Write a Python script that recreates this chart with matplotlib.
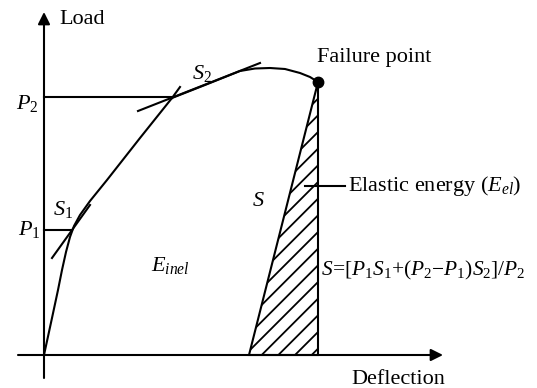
import matplotlib
matplotlib.use("Agg")
import matplotlib.pyplot as plt

plt.rcParams['font.family'] = ['Liberation Serif', 'DejaVu Serif']
plt.rcParams['mathtext.fontset'] = 'custom'
plt.rcParams['mathtext.rm'] = 'Liberation Serif'
plt.rcParams['mathtext.it'] = 'Liberation Serif:italic'
plt.rcParams['mathtext.bf'] = 'Liberation Serif:bold'
plt.rcParams['hatch.linewidth'] = 1.3

# Load-deflection curve (arbitrary units)
curve_x = [0, 8, 14, 18, 22, 26, 30, 36, 46, 63, 96, 128, 161, 196, 211, 226, 241, 256, 266, 274]
curve_y = [0, 37, 65, 85, 103, 118, 129, 140, 154, 175, 217, 257, 270, 284, 286.5, 287, 286, 282, 278, 273]
# steep segment extension past P2
steep_ext_x = [128, 136]
steep_ext_y = [257, 268]
# tangent lines
s1_x = [8, 46]
s1_y = [97, 150]
s2_x = [94, 216]
s2_y = [244, 292]
# load levels
P1 = 125
P2 = 258
P1_end = 28
P2_end = 128
# failure point and unloading line
fail_x, fail_y = 274, 273
unload_x = [205, 274]
unload_y = [0, 273]

fig = plt.figure(figsize=(5.37, 3.88), dpi=100)
ax = fig.add_axes([0, 0, 1, 1])
ax.set_xlim(-44, 493)
ax.set_ylim(-33, 355)
ax.axis('off')

lw = 1.5
k = 'black'

# axes with arrows
ax.annotate('', xy=(0, 343), xytext=(0, -23),
            arrowprops=dict(arrowstyle='-|>', lw=lw, color=k, shrinkA=0, shrinkB=0,
                            mutation_scale=18))
ax.annotate('', xy=(399, 0), xytext=(-26, 0),
            arrowprops=dict(arrowstyle='-|>', lw=lw, color=k, shrinkA=0, shrinkB=0,
                            mutation_scale=18))

# hatched elastic region
ax.fill([unload_x[0], unload_x[1], fail_x, fail_x], [unload_y[0], unload_y[1], fail_y, 0],
        facecolor='white', edgecolor=k, hatch='//', lw=lw)

# curve
ax.plot(curve_x, curve_y, color=k, lw=lw, solid_capstyle='round')
ax.plot(steep_ext_x, steep_ext_y, color=k, lw=lw)
ax.plot(s1_x, s1_y, color=k, lw=lw)
ax.plot(s2_x, s2_y, color=k, lw=lw)
ax.plot([0, P1_end], [P1, P1], color=k, lw=lw)
ax.plot([0, P2_end], [P2, P2], color=k, lw=lw)
ax.plot([fail_x], [fail_y], 'o', color=k, ms=7.5)

# leader line
ax.plot([261, 301], [169, 169], color=k, lw=lw)

fs = 16
ax.text(15, 335, 'Load', fontsize=fs, ha='left', va='center')
ax.text(273, 293, 'Failure point', fontsize=fs, ha='left', va='baseline')
ax.text(-17, 252, r'$P_2$', fontsize=fs, ha='center', va='center')
ax.text(-15, 126, r'$P_1$', fontsize=fs, ha='center', va='center')
ax.text(19, 145, r'$S_1$', fontsize=fs, ha='center', va='center')
ax.text(158, 281, r'$S_2$', fontsize=fs, ha='center', va='center')
ax.text(214, 153, r'$S$', fontsize=fs, ha='center', va='center')
ax.text(126, 90, r'$E_{inel}$', fontsize=fs, ha='center', va='center')
ax.text(304, 169, r'Elastic energy ($E_{el}$)', fontsize=fs, ha='left', va='center')
ax.text(277, 85, r'$S\!=\![P_1S_1{+}(P_2{-}P_1)S_2]/P_2$', fontsize=15.4, ha='left', va='center')
ax.text(354, -24, 'Deflection', fontsize=fs, ha='center', va='center')

fig.savefig('out.png', dpi=100)
